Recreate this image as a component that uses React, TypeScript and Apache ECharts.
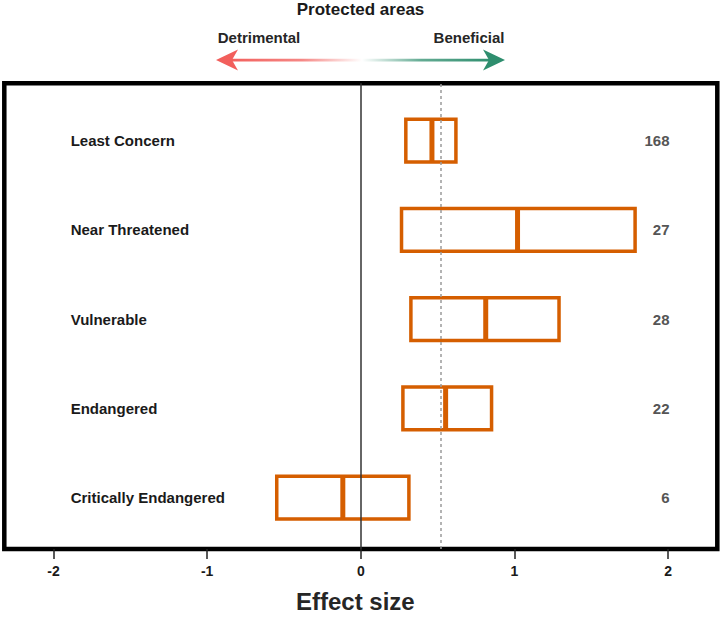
import React, { useEffect, useRef } from "react";
import * as echarts from "echarts";

const categories = ["Least Concern", "Near Threatened", "Vulnerable", "Endangered", "Critically Endangered"];
const lowerValues = [0.293, 0.265, 0.326, 0.274, -0.547];
const medianValues = [0.463, 1.02, 0.813, 0.552, -0.117];
const upperValues = [0.619, 1.785, 1.29, 0.851, 0.313];
const counts = [168, 27, 28, 22, 6];
const overallEffect = 0.515;
const xTicks = [-2, -1, 0, 1, 2];

const ORANGE = "#d55e00";
const FONT = "'Liberation Sans', Arial, Helvetica, sans-serif";
const LABEL_X = -1.888;
const COUNT_X = 2.009;
const BOX_H = 0.478;

export default function App() {
  const ref = useRef<HTMLDivElement>(null);
  useEffect(() => {
    if (!ref.current) return;
    const chart = echarts.init(ref.current, null, { renderer: "svg" });
    const data = categories.map((c, i) => [categories.length - i, lowerValues[i], medianValues[i], upperValues[i], counts[i]]);
    const redGrad = new echarts.graphic.LinearGradient(0, 0, 1, 0, [
      { offset: 0, color: "#f25f5c" },
      { offset: 0.55, color: "rgba(242,95,92,0.75)" },
      { offset: 1, color: "rgba(242,95,92,0)" },
    ]);
    const greenGrad = new echarts.graphic.LinearGradient(0, 0, 1, 0, [
      { offset: 0, color: "rgba(46,142,110,0)" },
      { offset: 0.45, color: "rgba(46,142,110,0.75)" },
      { offset: 1, color: "#2e8e6e" },
    ]);
    chart.setOption({
      animation: false,
      backgroundColor: "#fff",
      textStyle: { fontFamily: FONT },
      grid: {
        left: 4.3,
        right: 4.7,
        top: 83.3,
        bottom: 64.2,
        show: true,
        borderColor: "#000",
        borderWidth: 4.5,
        backgroundColor: "transparent",
      },
      graphic: [
        {
          type: "text",
          x: 360.5,
          y: 9,
          style: { text: "Protected areas", fill: "#1a1a1a", font: `bold 17px ${FONT}`, align: "center", verticalAlign: "middle" },
        },
        {
          type: "text",
          x: 259,
          y: 37,
          style: { text: "Detrimental", fill: "#262626", font: `bold 15px ${FONT}`, align: "center", verticalAlign: "middle" },
        },
        {
          type: "text",
          x: 469,
          y: 37,
          style: { text: "Beneficial", fill: "#262626", font: `bold 15px ${FONT}`, align: "center", verticalAlign: "middle" },
        },
        { type: "rect", shape: { x: 228, y: 58.7, width: 134, height: 2.8 }, style: { fill: redGrad } },
        { type: "polygon", shape: { points: [[216, 60], [238, 49.5], [232, 60], [238, 70.5]] }, style: { fill: "#f25f5c" } },
        { type: "rect", shape: { x: 362, y: 58.7, width: 132, height: 2.8 }, style: { fill: greenGrad } },
        { type: "polygon", shape: { points: [[505, 60], [483, 49.5], [489, 60], [483, 70.5]] }, style: { fill: "#2e8e6e" } },
      ],
      xAxis: {
        type: "value",
        min: -2.32,
        max: 2.32,
        splitLine: { show: false },
        axisLine: { show: false },
        axisTick: { show: true, length: 10, customValues: xTicks, lineStyle: { color: "#222", width: 1.5 } },
        axisLabel: {
          customValues: xTicks,
          margin: 15,
          fontSize: 14,
          fontWeight: "bold",
          color: "#1a1a1a",
          fontFamily: FONT,
        },
        name: "Effect size",
        nameLocation: "middle",
        nameGap: 40,
        nameTextStyle: { fontSize: 24, fontWeight: "bold", color: "#262626", fontFamily: FONT, padding: [0, 11, 0, 0] },
      },
      yAxis: {
        type: "value",
        min: 0.424,
        max: 5.642,
        show: false,
        splitLine: { show: false },
      },
      series: [
        {
          type: "custom",
          clip: false,
          encode: { x: [1, 2, 3], y: 0 },
          data,
          renderItem: (params: any, api: any) => {
            const y = api.value(0);
            const lo = api.coord([api.value(1), y]);
            const med = api.coord([api.value(2), y]);
            const hi = api.coord([api.value(3), y]);
            const h = api.size([0, BOX_H])[1];
            const lp = api.coord([LABEL_X, y]);
            const cp = api.coord([COUNT_X, y]);
            return {
              type: "group",
              children: [
                {
                  type: "rect",
                  shape: { x: lo[0], y: lo[1] - h / 2, width: hi[0] - lo[0], height: h },
                  style: { fill: "none", stroke: ORANGE, lineWidth: 3.5 },
                },
                {
                  type: "line",
                  shape: { x1: med[0], y1: lo[1] - h / 2, x2: med[0], y2: lo[1] + h / 2 },
                  style: { stroke: ORANGE, lineWidth: 5 },
                },
                {
                  type: "text",
                  x: lp[0],
                  y: lp[1],
                  style: {
                    text: categories[params.dataIndex],
                    fill: "#1a1a1a",
                    font: `bold 15px ${FONT}`,
                    align: "left",
                    verticalAlign: "middle",
                  },
                },
                {
                  type: "text",
                  x: cp[0],
                  y: cp[1],
                  style: {
                    text: String(api.value(4)),
                    fill: "#555555",
                    font: `bold 15px ${FONT}`,
                    align: "right",
                    verticalAlign: "middle",
                  },
                },
              ],
            };
          },
          markLine: {
            silent: true,
            symbol: ["none", "none"],
            label: { show: false },
            data: [
              { xAxis: 0, lineStyle: { color: "#333", width: 1.5, type: "solid" } },
              { xAxis: overallEffect, lineStyle: { color: "#9a9a9a", width: 1.5, type: [3, 3] } },
            ],
          },
        },
      ],
    });
    return () => chart.dispose();
  }, []);
  return <div ref={ref} style={{ position: "absolute", left: 0, top: 0, width: 722, height: 618 }} />;
}
